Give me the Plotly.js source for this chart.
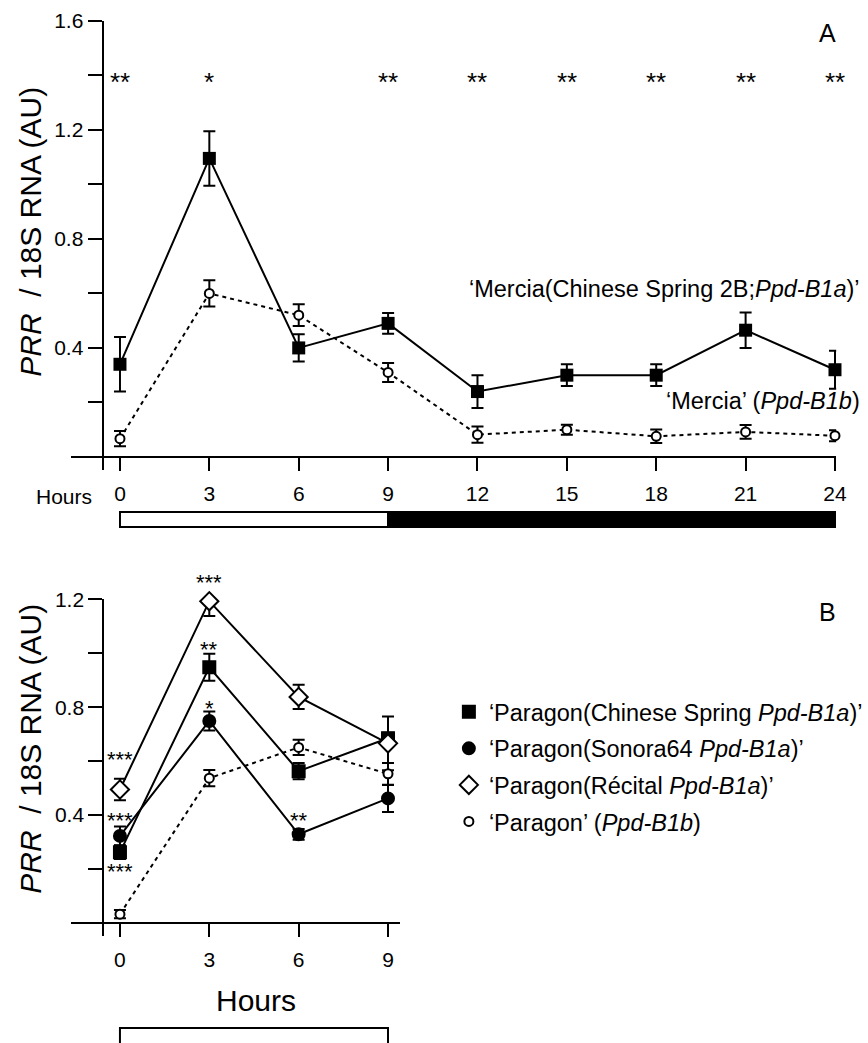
<!DOCTYPE html>
<html>
<head>
<meta charset="utf-8">
<script src="https://cdn.plot.ly/plotly-3.0.1.min.js"></script>
<style>html,body{margin:0;padding:0;background:#fff}#chart{width:868px;height:1043px}</style>
</head>
<body>
<div id="chart"></div>
<script>
// ---------- Panel A data ----------
const hoursA = [0, 3, 6, 9, 12, 15, 18, 21, 24];
const merciaCS = [0.34, 1.095, 0.40, 0.49, 0.24, 0.30, 0.30, 0.465, 0.32];
const merciaCSErr = [0.10, 0.10, 0.05, 0.038, 0.06, 0.04, 0.04, 0.065, 0.07];
const mercia = [0.067, 0.60, 0.52, 0.31, 0.082, 0.10, 0.076, 0.092, 0.078];
const merciaErr = [0.028, 0.048, 0.04, 0.035, 0.03, 0.018, 0.025, 0.025, 0.02];
const starsA = ['**', '*', '', '**', '**', '**', '**', '**', '**'];
const starsAY = 1.383;
const lightA = [0, 9];
const darkA = [9, 24];
const yTicksA = [0.2, 0.4, 0.6, 0.8, 1.0, 1.2, 1.4, 1.6];
const yTickTextA = ['', '0.4', '', '0.8', '', '1.2', '', '1.6'];

// ---------- Panel B data ----------
const hoursB = [0, 3, 6, 9];
const paragonCS = [0.262, 0.948, 0.563, 0.685];
const paragonCSErr = [0.025, 0.05, 0.03, 0.02];
const paragonSon = [0.323, 0.749, 0.329, 0.462];
const paragonSonErr = [0.035, 0.035, 0.02, 0.05];
const paragonRec = [0.495, 1.193, 0.838, 0.666];
const paragonRecErr = [0.04, 0.055, 0.045, 0.10];
const paragon = [0.033, 0.537, 0.651, 0.553];
const paragonErr = [0.015, 0.03, 0.028, 0.04];
const starsBHours = [0, 0, 0, 3, 3, 3, 6];
const starsBY = [0.623, 0.40, 0.21, 1.282, 1.033, 0.814, 0.40];
const starsBText = ['***', '***', '***', '***', '**', '*', '**'];
const lightB = [0, 9];
const yTicksB = [0.2, 0.4, 0.6, 0.8, 1.0, 1.2];
const yTickTextB = ['', '0.4', '', '0.8', '', '1.2'];

const namesB = [
  '\u2018Paragon(Chinese Spring <i>Ppd-B1a</i>)\u2019',
  '\u2018Paragon(Sonora64 <i>Ppd-B1a</i>)\u2019',
  '\u2018Paragon(R\u00e9cital <i>Ppd-B1a</i>)\u2019',
  '\u2018Paragon\u2019 (<i>Ppd-B1b</i>)'
];

const W = 868, H = 1043;
const px = v => v / W;
const py = v => 1 - v / H;
const FONT = 'Liberation Sans, Arial, Helvetica, sans-serif';
const black = '#000';
const Y2_TOP = 1.2, Y2_PX_PER_UNIT = (936 - 599.3) / (1.2 + 0.048);

function errBar(arr) {
  return {type: 'data', array: arr, visible: true, color: black, thickness: 2, width: 6};
}

const traces = [];
// Panel A
traces.push({x: hoursA, y: merciaCS, xaxis: 'x', yaxis: 'y', mode: 'lines+markers', cliponaxis: false,
  line: {color: black, width: 2}, marker: {symbol: 'square', size: 13, color: black},
  error_y: errBar(merciaCSErr), showlegend: false});
traces.push({x: hoursA, y: mercia, xaxis: 'x', yaxis: 'y', mode: 'lines+markers', cliponaxis: false,
  line: {color: black, width: 2, dash: '4px,4px'}, marker: {symbol: 'circle', size: 9, color: '#fff', line: {color: black, width: 2}},
  error_y: errBar(merciaErr), showlegend: false});

// Panel B
const seriesB = [
  {y: paragonCS, e: paragonCSErr, sym: 'square', size: 12, fill: black, dash: 'solid'},
  {y: paragonSon, e: paragonSonErr, sym: 'circle', size: 12, fill: black, dash: 'solid'},
  {y: paragonRec, e: paragonRecErr, sym: 'diamond', size: 14, fill: '#fff', dash: 'solid'},
  {y: paragon, e: paragonErr, sym: 'circle', size: 9, fill: '#fff', dash: '4px,4px'}
];
seriesB.forEach((s, i) => {
  traces.push({x: hoursB, y: s.y, xaxis: 'x2', yaxis: 'y2', mode: 'lines', cliponaxis: false,
    line: {color: black, width: 2, dash: s.dash}, showlegend: false, hoverinfo: 'skip'});
});
seriesB.forEach((s, i) => {
  traces.push({x: hoursB, y: s.y, xaxis: 'x2', yaxis: 'y2', mode: 'markers', cliponaxis: false,
    name: namesB[i], legendgroup: 'g' + i,
    marker: {symbol: s.sym, size: s.size, color: s.fill, line: {color: black, width: 2}},
    error_y: errBar(s.e), showlegend: true});
});

const axisCommon = {
  showline: true, linecolor: black, linewidth: 2, showgrid: false, zeroline: false,
  ticks: 'outside', tickcolor: black, tickwidth: 2,
  tickfont: {family: FONT, size: 21, color: black}, fixedrange: true
};

const annotations = [];
// y-axis titles
const yTitle = '<i>PRR</i>\u00a0\u00a0/ 18S RNA (AU)';
annotations.push({xref: 'paper', yref: 'paper', x: px(30), y: py(232), text: yTitle, textangle: -90,
  showarrow: false, font: {family: FONT, size: 30, color: black}, xanchor: 'center', yanchor: 'middle'});
annotations.push({xref: 'paper', yref: 'paper', x: px(30), y: py(749), text: yTitle, textangle: -90,
  showarrow: false, font: {family: FONT, size: 30, color: black}, xanchor: 'center', yanchor: 'middle'});
// Hours labels
annotations.push({xref: 'paper', yref: 'paper', x: px(64), y: py(496), text: 'Hours', showarrow: false,
  font: {family: FONT, size: 21, color: black}, xanchor: 'center', yanchor: 'middle'});
annotations.push({xref: 'paper', yref: 'paper', x: px(258), y: py(1000), text: 'Hours', showarrow: false,
  font: {family: FONT, size: 30, color: black}, xanchor: 'center', yanchor: 'middle'});
// panel letters
annotations.push({xref: 'paper', yref: 'paper', x: px(833), y: py(33), text: 'A', showarrow: false,
  font: {family: FONT, size: 25, color: black}, xanchor: 'center', yanchor: 'middle'});
annotations.push({xref: 'paper', yref: 'paper', x: px(833), y: py(612), text: 'B', showarrow: false,
  font: {family: FONT, size: 25, color: black}, xanchor: 'center', yanchor: 'middle'});
// series labels in A
annotations.push({xref: 'paper', yref: 'paper', x: px(868), y: py(289),
  text: '\u2018Mercia(Chinese Spring 2B;<i>Ppd-B1a</i>)\u2019', showarrow: false,
  font: {family: FONT, size: 23.5, color: black}, xanchor: 'right', yanchor: 'middle'});
annotations.push({xref: 'paper', yref: 'paper', x: px(868), y: py(401),
  text: '\u2018Mercia\u2019 (<i>Ppd-B1b</i>)', showarrow: false,
  font: {family: FONT, size: 23.5, color: black}, xanchor: 'right', yanchor: 'middle'});
// stars A
hoursA.forEach((h, i) => {
  if (!starsA[i]) return;
  annotations.push({xref: 'x', yref: 'y', x: h, y: starsAY, text: starsA[i], showarrow: false,
    font: {family: FONT, size: 26, color: black}, xanchor: 'center', yanchor: 'middle', yshift: -2});
});
// stars B (values above the axis top are placed at the top with a pixel offset)
starsBHours.forEach((h, i) => {
  const v = starsBY[i];
  const over = Math.max(0, v - Y2_TOP);
  annotations.push({xref: 'x2', yref: 'y2', x: h, y: Math.min(v, Y2_TOP), text: starsBText[i], showarrow: false,
    font: {family: FONT, size: 22, color: black}, xanchor: 'center', yanchor: 'middle',
    yshift: -5 + over * Y2_PX_PER_UNIT});
});

const shapes = [
  {type: 'rect', xref: 'x', yref: 'paper', x0: lightA[0], x1: lightA[1], y0: py(527), y1: py(512),
    fillcolor: '#fff', line: {color: black, width: 2}},
  {type: 'rect', xref: 'x', yref: 'paper', x0: darkA[0], x1: darkA[1], y0: py(527), y1: py(512),
    fillcolor: black, line: {color: black, width: 2}},
  {type: 'rect', xref: 'x2', yref: 'paper', x0: lightB[0], x1: lightB[1], y0: py(1050), y1: py(1028),
    fillcolor: '#fff', line: {color: black, width: 2}}
];

const layout = {
  width: W, height: H,
  margin: {l: 0, r: 0, t: 0, b: 0},
  paper_bgcolor: '#fff', plot_bgcolor: 'rgba(0,0,0,0)',
  font: {family: FONT, color: black},
  xaxis: Object.assign({}, axisCommon, {domain: [px(71), px(842)], range: [-1.66, 24.04],
    anchor: 'free', position: py(457), tickvals: hoursA, ticklen: 13, ticklabelstandoff: 5}),
  yaxis: Object.assign({}, axisCommon, {domain: [py(470), py(20.7)], range: [-0.0477, 1.6],
    anchor: 'free', position: px(103.3), tickvals: yTicksA, ticktext: yTickTextA, ticklen: 14}),
  xaxis2: Object.assign({}, axisCommon, {domain: [px(71), px(403)], range: [-1.66, 9.41],
    anchor: 'free', position: py(923), tickvals: hoursB, ticklen: 13, ticklabelstandoff: 5}),
  yaxis2: Object.assign({}, axisCommon, {domain: [py(936), py(599.3)], range: [-0.048, 1.2],
    anchor: 'free', position: px(104), tickvals: yTicksB, ticktext: yTickTextB, ticklen: 14}),
  showlegend: true,
  legend: {x: px(452), y: py(690), xanchor: 'left', yanchor: 'top', traceorder: 'grouped',
    tracegroupgap: 3, font: {family: FONT, size: 23.5, color: black}, bgcolor: 'rgba(0,0,0,0)',
    itemclick: false, itemdoubleclick: false},
  annotations: annotations,
  shapes: shapes
};

Plotly.newPlot('chart', traces, layout, {displayModeBar: false, staticPlot: true});
</script>
</body>
</html>
